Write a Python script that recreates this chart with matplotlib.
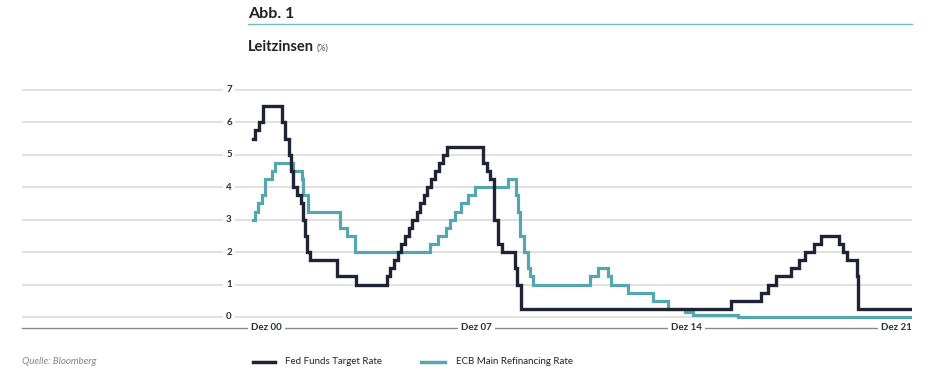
import numpy as np
import pandas as pd
import matplotlib
matplotlib.use("Agg")
import matplotlib.pyplot as plt
import matplotlib.dates as mdates

plt.rcParams['font.family'] = ['Lato', 'DejaVu Sans']

# Fed Funds Target Rate (change dates, level)
fed_dates = ['2000-01-12', '2000-02-02', '2000-03-21', '2000-05-16', '2001-01-03', '2001-01-31',
             '2001-03-20', '2001-04-18', '2001-05-15', '2001-06-27', '2001-08-21', '2001-09-17',
             '2001-10-02', '2001-11-06', '2001-12-11', '2002-11-06', '2003-06-25', '2004-06-30',
             '2004-08-10', '2004-09-21', '2004-11-10', '2004-12-14', '2005-02-02', '2005-03-22',
             '2005-05-03', '2005-06-30', '2005-08-09', '2005-09-20', '2005-11-01', '2005-12-13',
             '2006-01-31', '2006-03-28', '2006-05-10', '2006-06-29', '2007-09-18', '2007-10-31',
             '2007-12-11', '2008-01-22', '2008-01-30', '2008-03-18', '2008-04-30', '2008-10-08',
             '2008-10-29', '2008-12-16', '2015-12-16', '2016-12-14', '2017-03-15', '2017-06-14',
             '2017-12-13', '2018-03-21', '2018-06-13', '2018-09-26', '2018-12-19', '2019-07-31',
             '2019-09-18', '2019-10-30', '2020-03-03', '2020-03-15', '2021-12-31']
fed_rates = [5.5, 5.75, 6.0, 6.5, 6.0, 5.5,
             5.0, 4.5, 4.0, 3.75, 3.5, 3.0,
             2.5, 2.0, 1.75, 1.25, 1.0, 1.25,
             1.5, 1.75, 2.0, 2.25, 2.5, 2.75,
             3.0, 3.25, 3.5, 3.75, 4.0, 4.25,
             4.5, 4.75, 5.0, 5.25, 4.75, 4.5,
             4.25, 3.5, 3.0, 2.25, 2.0, 1.5,
             1.0, 0.25, 0.5, 0.75, 1.0, 1.25,
             1.5, 1.75, 2.0, 2.25, 2.5, 2.25,
             2.0, 1.75, 1.25, 0.25, 0.25]

# ECB Main Refinancing Rate
ecb_dates = ['2000-01-12', '2000-02-04', '2000-03-17', '2000-04-28', '2000-06-09', '2000-09-06',
             '2000-10-11', '2001-05-11', '2001-09-05', '2001-09-18', '2001-11-09', '2002-12-06',
             '2003-03-07', '2003-06-06', '2005-12-06', '2006-03-08', '2006-06-15', '2006-08-09',
             '2006-10-11', '2006-12-13', '2007-03-14', '2007-06-13', '2008-07-09', '2008-10-15',
             '2008-11-12', '2008-12-10', '2009-01-21', '2009-03-11', '2009-04-08', '2009-05-13',
             '2011-04-13', '2011-07-13', '2011-11-09', '2011-12-14', '2012-07-11', '2013-05-08',
             '2013-11-13', '2014-06-11', '2014-09-10', '2016-03-16', '2021-12-31']
ecb_rates = [3.0, 3.25, 3.5, 3.75, 4.25, 4.5,
             4.75, 4.5, 4.25, 3.75, 3.25, 2.75,
             2.5, 2.0, 2.25, 2.5, 2.75, 3.0,
             3.25, 3.5, 3.75, 4.0, 4.25, 3.75,
             3.25, 2.5, 2.0, 1.5, 1.25, 1.0,
             1.25, 1.5, 1.25, 1.0, 0.75, 0.5,
             0.25, 0.15, 0.05, 0.0, 0.0]

tick_dates = ['2000-12-31', '2007-12-31', '2014-12-31', '2021-12-31']
tick_labels = ['Dez 00', 'Dez 07', 'Dez 14', 'Dez 21']
y_ticks = [0, 1, 2, 3, 4, 5, 6, 7]

navy = '#1e2336'
teal = '#56a6b0'
grid_c = '#dedede'

fig = plt.figure(figsize=(9.4, 3.76), dpi=100)
ax = fig.add_axes([22 / 940, 48 / 376, 890 / 940, 243 / 376])

ax.step(pd.to_datetime(fed_dates), fed_rates, where='post', color=navy, lw=2.4, zorder=4,
        solid_joinstyle='miter')
ax.step(pd.to_datetime(ecb_dates), ecb_rates, where='post', color=teal, lw=2.3, zorder=3,
        solid_joinstyle='miter')

# x scale: ~30 px per year, right edge at end of 2021
right = mdates.date2num(pd.Timestamp('2021-12-31'))
px_per_day = 30 / 365.25
ax.set_xlim(right - 890 / px_per_day, right)
ax.set_ylim(-0.34, 7.15)

for s in ax.spines.values():
    s.set_visible(False)
ax.set_xticks([])
ax.set_yticks([])

for v in y_ticks:
    ax.axhline(v, color=grid_c, lw=1.3, zorder=1)
    ax.text((229 - 22) / 890, v, str(v), transform=ax.get_yaxis_transform(),
            ha='center', va='center', fontsize=7, fontweight='bold', color='#2a2f40', zorder=2,
            bbox=dict(boxstyle='square,pad=0.35', fc='white', ec='none'))

# bottom axis line with labels
ax.axhline(-0.34, color='#8a8a8a', lw=1.0, zorder=1, clip_on=False)
for d, lab in zip(tick_dates, tick_labels):
    ax.text(mdates.date2num(pd.Timestamp(d)), -0.34, lab, ha='right', va='center',
            fontsize=7, fontweight='bold', color='#2a2f40', zorder=2, clip_on=False,
            bbox=dict(boxstyle='square,pad=0.3', fc='white', ec='none'))

# header
fig.text(248 / 940, 1 - 14 / 376, 'Abb. 1', fontsize=11.5, fontweight='bold', color='#222222',
         va='center', ha='left')
fig.add_artist(plt.Line2D([248 / 940, 912 / 940], [1 - 24 / 376, 1 - 24 / 376],
                          color='#6bbcc2', lw=1.0))
t = fig.text(248 / 940, 1 - 47 / 376, 'Leitzinsen', fontsize=10.5, fontweight='bold',
             color='#222222', va='center', ha='left')
fig.canvas.draw()
bb = t.get_window_extent()
fig.text(bb.x1 / 940 + 3 / 940, 1 - 48 / 376, '(%)', fontsize=6.5, color='#555555',
         va='center', ha='left')

# footer
fig.text(22 / 940, 1 - 362 / 376, 'Quelle: Bloomberg', fontsize=7, style='italic',
         color='#888888', va='center', ha='left')
fig.add_artist(plt.Line2D([253 / 940, 275 / 940], [1 - 362 / 376] * 2, color=navy, lw=2.5))
fig.text(285 / 940, 1 - 362 / 376, 'Fed Funds Target Rate', fontsize=7, color='#222222',
         va='center', ha='left')
fig.add_artist(plt.Line2D([421 / 940, 445 / 940], [1 - 362 / 376] * 2, color=teal, lw=2.5))
fig.text(456 / 940, 1 - 362 / 376, 'ECB Main Refinancing Rate', fontsize=7, color='#222222',
         va='center', ha='left')

fig.savefig('out.png', dpi=100, facecolor='white')
